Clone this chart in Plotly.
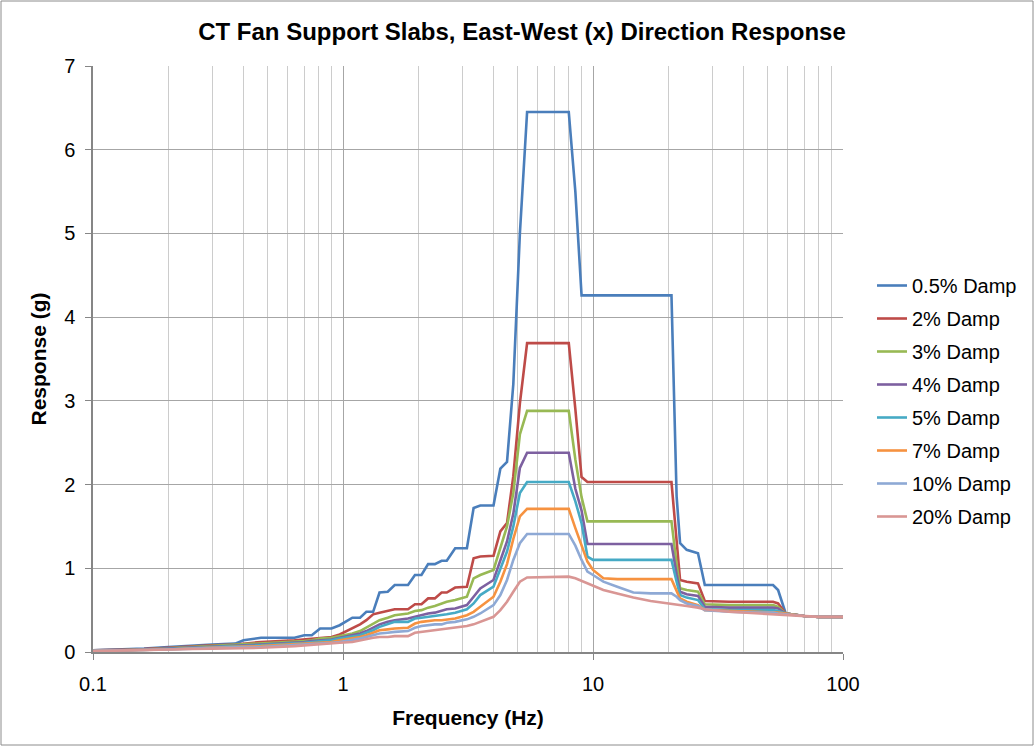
import plotly.graph_objects as go

# ---------------- data ----------------
freq = [0.1, 0.13, 0.16, 0.2, 0.25, 0.3, 0.37, 0.4, 0.47,
        0.64, 0.7, 0.75, 0.81, 0.9, 0.97,
        1.09, 1.17, 1.24, 1.32, 1.4,
        1.51, 1.61, 1.82, 1.94, 2.06,
        2.19, 2.33, 2.48, 2.6, 2.81,
        3.13, 3.33, 3.54, 4.0, 4.26,
        4.53, 4.8, 5.1, 5.45, 8.0,
        8.5, 9.0, 9.5, 10.0, 11.0,
        12.5, 14.5, 17.0, 20.6, 21.6, 22.3,
        23.7, 26.3, 28.0, 35.0, 45.0,
        52.5, 55.0, 59.0, 70.0, 80.0, 100.0]

damp_05 = [0.02, 0.03, 0.04, 0.06, 0.08, 0.09, 0.10, 0.14, 0.17,
           0.17, 0.20, 0.20, 0.28, 0.28, 0.32,
           0.41, 0.41, 0.48, 0.48, 0.71,
           0.72, 0.80, 0.80, 0.92, 0.92,
           1.05, 1.05, 1.09, 1.09, 1.24,
           1.24, 1.72, 1.75, 1.75, 2.19,
           2.27, 3.20, 5.00, 6.45, 6.45,
           5.50, 4.26, 4.26, 4.26, 4.26,
           4.26, 4.26, 4.26, 4.26, 1.86, 1.30,
           1.22, 1.18, 0.80, 0.80, 0.80,
           0.80, 0.74, 0.46, 0.43, 0.42, 0.42]

damp_2 = [0.02, 0.025, 0.035, 0.05, 0.07, 0.08, 0.09, 0.10, 0.12,
          0.14, 0.15, 0.16, 0.17, 0.18, 0.21,
          0.28, 0.33, 0.38, 0.45, 0.47,
          0.49, 0.51, 0.51, 0.57, 0.57,
          0.64, 0.64, 0.71, 0.71, 0.77,
          0.78, 1.12, 1.14, 1.15, 1.44,
          1.54, 2.10, 2.97, 3.69, 3.69,
          2.90, 2.09, 2.03, 2.03, 2.03,
          2.03, 2.03, 2.03, 2.03, 1.33, 0.86,
          0.84, 0.82, 0.61, 0.60, 0.60,
          0.60, 0.58, 0.46, 0.43, 0.42, 0.42]

damp_3 = [0.02, 0.02, 0.03, 0.045, 0.06, 0.07, 0.08, 0.09, 0.10,
          0.12, 0.13, 0.14, 0.16, 0.17, 0.19,
          0.22, 0.25, 0.29, 0.33, 0.38,
          0.41, 0.44, 0.46, 0.49, 0.50,
          0.53, 0.55, 0.58, 0.60, 0.62,
          0.66, 0.88, 0.92, 0.98, 1.25,
          1.50, 1.90, 2.60, 2.88, 2.88,
          2.30, 1.85, 1.56, 1.56, 1.56,
          1.56, 1.56, 1.56, 1.56, 1.05, 0.76,
          0.74, 0.72, 0.57, 0.56, 0.56,
          0.56, 0.54, 0.46, 0.43, 0.42, 0.42]

damp_4 = [0.02, 0.02, 0.03, 0.04, 0.055, 0.065, 0.075, 0.08, 0.09,
          0.11, 0.12, 0.13, 0.14, 0.15, 0.17,
          0.20, 0.22, 0.25, 0.29, 0.33,
          0.36, 0.38, 0.40, 0.42, 0.44,
          0.46, 0.47, 0.49, 0.51, 0.52,
          0.56, 0.66, 0.76, 0.86, 1.10,
          1.32, 1.65, 2.20, 2.38, 2.38,
          1.95, 1.69, 1.29, 1.29, 1.29,
          1.29, 1.29, 1.29, 1.29, 0.93, 0.72,
          0.69, 0.67, 0.54, 0.53, 0.53,
          0.53, 0.52, 0.46, 0.43, 0.42, 0.42]

damp_5 = [0.02, 0.02, 0.025, 0.035, 0.05, 0.06, 0.07, 0.07, 0.08,
          0.10, 0.11, 0.12, 0.13, 0.14, 0.16,
          0.18, 0.20, 0.23, 0.26, 0.30,
          0.33, 0.36, 0.36, 0.40, 0.41,
          0.42, 0.43, 0.44, 0.45, 0.47,
          0.51, 0.58, 0.68, 0.78, 1.00,
          1.20, 1.50, 1.90, 2.03, 2.03,
          1.80, 1.54, 1.14, 1.10, 1.10,
          1.10, 1.10, 1.10, 1.10, 0.84, 0.68,
          0.65, 0.62, 0.51, 0.50, 0.50,
          0.50, 0.49, 0.46, 0.43, 0.42, 0.42]

damp_7 = [0.015, 0.02, 0.025, 0.03, 0.045, 0.055, 0.06, 0.065, 0.07,
          0.09, 0.10, 0.10, 0.11, 0.12, 0.14,
          0.16, 0.18, 0.20, 0.23, 0.26,
          0.27, 0.28, 0.29, 0.34, 0.36,
          0.37, 0.38, 0.38, 0.39, 0.40,
          0.44, 0.48, 0.54, 0.66, 0.84,
          1.05, 1.35, 1.62, 1.71, 1.71,
          1.48, 1.27, 1.08, 0.98, 0.88,
          0.87, 0.87, 0.87, 0.87, 0.73, 0.64,
          0.60, 0.56, 0.50, 0.49, 0.48,
          0.48, 0.47, 0.46, 0.43, 0.42, 0.42]

damp_10 = [0.015, 0.02, 0.02, 0.03, 0.04, 0.05, 0.055, 0.06, 0.06,
           0.08, 0.09, 0.09, 0.10, 0.11, 0.12,
           0.14, 0.16, 0.18, 0.20, 0.22,
           0.23, 0.24, 0.25, 0.29, 0.31,
           0.32, 0.33, 0.33, 0.35, 0.36,
           0.39, 0.42, 0.46, 0.56, 0.68,
           0.86, 1.10, 1.30, 1.41, 1.41,
           1.27, 1.10, 0.96, 0.92, 0.84,
           0.78, 0.71, 0.70, 0.70, 0.66, 0.62,
           0.58, 0.55, 0.50, 0.48, 0.47,
           0.47, 0.46, 0.45, 0.43, 0.42, 0.42]

damp_20 = [0.01, 0.015, 0.02, 0.025, 0.035, 0.04, 0.045, 0.05, 0.05,
           0.07, 0.08, 0.08, 0.09, 0.10, 0.11,
           0.12, 0.14, 0.15, 0.17, 0.18,
           0.18, 0.19, 0.19, 0.23, 0.24,
           0.25, 0.26, 0.27, 0.28, 0.29,
           0.31, 0.33, 0.36, 0.42, 0.50,
           0.60, 0.72, 0.84, 0.89, 0.90,
           0.88, 0.85, 0.82, 0.79, 0.74,
           0.70, 0.65, 0.61, 0.58, 0.57, 0.56,
           0.55, 0.53, 0.51, 0.48, 0.46,
           0.45, 0.45, 0.44, 0.43, 0.42, 0.42]

series_names = ["0.5% Damp", "2% Damp", "3% Damp", "4% Damp",
                "5% Damp", "7% Damp", "10% Damp", "20% Damp"]
series_values = [damp_05, damp_2, damp_3, damp_4, damp_5, damp_7, damp_10, damp_20]
series_colors = ["#4A7EBB", "#BE4B48", "#98B954", "#7D60A0",
                 "#46AAC5", "#F69240", "#8EA9D5", "#D99694"]

x_tick_vals = [0.1, 1, 10, 100]
x_tick_text = ["0.1", "1", "10", "100"]
x_minor_vals = [m * d for d in (0.1, 1, 10) for m in range(2, 10)]

# ---------------- figure ----------------
fig = go.Figure()
for i, (name, vals, col) in enumerate(zip(series_names, series_values, series_colors)):
    fig.add_trace(go.Scatter(
        x=freq, y=vals, name=name, mode="lines",
        line=dict(color=col, width=2.6),
        legendgroup=f"g{i}",
    ))

W, H = 1035, 747
L, R, T, B = 93, 192, 66, 95
pw, ph = W - L - R, H - T - B

def px(x):
    return (x - L) / pw

def py(y):
    return (H - B - y) / ph

font_family = "Arial, Liberation Sans, sans-serif"

fig.update_layout(
    width=W, height=H,
    margin=dict(l=L, r=R, t=T, b=B, autoexpand=False),
    paper_bgcolor="white", plot_bgcolor="white",
    font=dict(family=font_family, size=20, color="#000000"),
    title=dict(text="<b>CT Fan Support Slabs, East-West (x) Direction Response</b>",
               x=px(522), xref="paper", xanchor="center",
               y=1 - 32 / H, yref="container", yanchor="middle",
               font=dict(size=24, family=font_family)),
    showlegend=True,
    legend=dict(x=px(872), y=py(266), xanchor="left", yanchor="top",
                font=dict(size=20, family=font_family),
                tracegroupgap=4, itemwidth=30,
                bgcolor="rgba(0,0,0,0)"),
    xaxis=dict(
        type="log", range=[-1, 2],
        tickvals=x_tick_vals, ticktext=x_tick_text,
        ticks="outside", ticklen=6, tickcolor="#868686",
        ticklabelstandoff=7,
        showline=True, linecolor="#868686", linewidth=2,
        showgrid=True, gridcolor="#A6A6A6", gridwidth=1,
        minor=dict(tickvals=x_minor_vals, showgrid=True,
                   gridcolor="#CCCCCC", gridwidth=1, ticks=""),
        tickfont=dict(size=20),
        title=dict(text="<b>Frequency (Hz)</b>", font=dict(size=21), standoff=16),
        zeroline=False, mirror=False,
    ),
    yaxis=dict(
        range=[0, 7], dtick=1, tick0=0,
        ticks="outside", ticklen=6, tickcolor="#868686",
        ticklabelstandoff=6,
        showline=True, linecolor="#868686", linewidth=1.5,
        showgrid=True, gridcolor="#A6A6A6", gridwidth=1,
        tickfont=dict(size=20),
        title=dict(text="<b>Response (g)</b>", font=dict(size=21), standoff=12),
        zeroline=False,
    ),
    shapes=[dict(type="rect", xref="paper", yref="paper",
                 x0=px(1), x1=px(1033), y0=py(745), y1=py(1),
                 line=dict(color="#8C8C8C", width=1), fillcolor="rgba(0,0,0,0)",
                 layer="below")],
)

fig.write_html("out.html")
